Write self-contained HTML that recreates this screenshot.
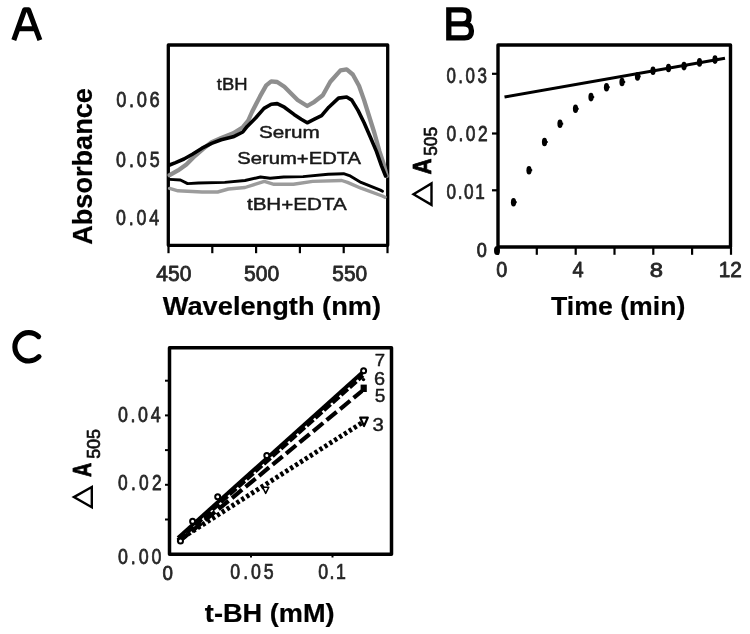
<!DOCTYPE html>
<html><head><meta charset="utf-8"><style>
html,body{margin:0;padding:0;background:#fff;}
svg{display:block;}
text{font-family:"Liberation Sans",sans-serif;font-size:100px;}
</style></head><body>
<svg width="750" height="634" viewBox="0 0 750 634">
<defs><filter id="bl" x="0" y="0" width="1" height="1"><feGaussianBlur stdDeviation="0.45"/></filter></defs>
<rect width="750" height="634" fill="#fff"/>
<g filter="url(#bl)">
<rect width="750" height="634" fill="#fff"/>
<path d="M13.8 40.2 L24.6 9.8 L28.6 9.8 L39.9 40.2 M17.85 28.8 H35.66" fill="none" stroke="#000" stroke-width="5.1" stroke-linejoin="round"/>
<path d="M448.8 23.85 H463.5 Q471.4 23.85 471.4 30.5 V31.6 Q471.4 37.9 464.5 37.9 H448.8 V9.8 H462.3 Q469 9.8 469 15.2 V17.6 Q469 23.85 462.5 23.85" fill="none" stroke="#000" stroke-width="5.3" stroke-linejoin="miter"/>
<path d="M38.6 336.6 A14 14.2 0 1 0 39 356.6" fill="none" stroke="#000" stroke-width="5.1" stroke-linecap="round"/>
<path d="M168.3 45 V245.3 H387.7 V45 Z" fill="none" stroke="#000" stroke-width="3.3" stroke-linejoin="round"/>
<line x1="168.5" y1="246" x2="168.5" y2="253.2" stroke="#000" stroke-width="2.2"/>
<line x1="212.3" y1="246" x2="212.3" y2="253.2" stroke="#000" stroke-width="2.2"/>
<line x1="256.1" y1="246" x2="256.1" y2="253.2" stroke="#000" stroke-width="2.2"/>
<line x1="299.9" y1="246" x2="299.9" y2="253.2" stroke="#000" stroke-width="2.2"/>
<line x1="343.7" y1="246" x2="343.7" y2="253.2" stroke="#000" stroke-width="2.2"/>
<line x1="387.5" y1="246" x2="387.5" y2="253.2" stroke="#000" stroke-width="2.2"/>
<polyline points="169.6,188.4 178.0,190.8 202.0,192.0 217.6,192.0 228.4,189.0 245.0,187.5 264.3,181.4 274.0,184.3 293.4,184.3 312.7,181.4 341.7,180.5 347.5,182.4 361.0,188.2 382.3,196.0 385.0,197.3" fill="none" stroke-linejoin="round" stroke-linecap="round" stroke="#9c9c9c" stroke-width="3.4"/>
<polyline points="169.6,179.4 180.4,180.0 187.6,183.6 198.4,183.0 224.8,182.4 245.0,180.5 260.5,177.0 270.1,178.2 283.7,177.0 303.0,176.6 328.2,174.3 343.6,173.7 349.4,175.6 361.0,182.4 380.4,190.1 382.5,191.2" fill="none" stroke-linejoin="round" stroke-linecap="round" stroke="#000" stroke-width="2.9"/>
<polyline points="169.6,175.2 178.0,170.4 186.4,164.4 194.8,156.0 203.2,148.8 211.6,142.2 221.2,138.0 233.2,133.2 242.8,127.2 248.0,121.0 252.0,112.0 260.0,96.4 266.2,85.4 271.2,81.4 277.2,82.0 284.4,86.8 291.6,94.0 297.6,100.0 307.2,106.0 314.4,101.8 322.8,95.2 330.3,81.7 340.5,70.4 346.7,69.4 352.8,74.5 359.0,85.8 364.1,100.1 369.2,116.5 374.4,133.0 379.5,151.4 383.6,163.7 386.7,176.0" fill="none" stroke-linejoin="round" stroke-linecap="round" stroke="#8e8e8e" stroke-width="4.3"/>
<polyline points="169.6,165.0 175.6,162.6 184.0,159.0 192.4,154.2 202.0,148.2 211.6,143.4 221.2,139.8 233.2,136.8 242.8,132.0 247.2,126.4 255.6,118.0 264.0,108.4 271.2,104.2 277.2,103.6 284.4,107.2 294.0,114.4 301.2,119.2 307.2,122.8 314.4,119.2 321.6,115.6 328.8,107.2 338.5,98.1 346.7,97.0 351.8,100.1 358.0,110.4 364.1,122.7 370.3,137.0 376.4,151.4 381.5,165.8 385.6,176.0" fill="none" stroke-linejoin="round" stroke-linecap="round" stroke="#000" stroke-width="3.6"/>
<path d="M498 45 V247 H730.5 V45 Z" fill="none" stroke="#000" stroke-width="3.4" stroke-linejoin="round"/>
<line x1="498.0" y1="248" x2="498.0" y2="254.8" stroke="#000" stroke-width="2.2"/>
<line x1="536.8" y1="248" x2="536.8" y2="254.8" stroke="#000" stroke-width="2.2"/>
<line x1="575.7" y1="248" x2="575.7" y2="254.8" stroke="#000" stroke-width="2.2"/>
<line x1="614.5" y1="248" x2="614.5" y2="254.8" stroke="#000" stroke-width="2.2"/>
<line x1="653.3" y1="248" x2="653.3" y2="254.8" stroke="#000" stroke-width="2.2"/>
<line x1="692.1" y1="248" x2="692.1" y2="254.8" stroke="#000" stroke-width="2.2"/>
<line x1="731.0" y1="248" x2="731.0" y2="254.8" stroke="#000" stroke-width="2.2"/>
<line x1="492" y1="190.3" x2="498" y2="190.3" stroke="#000" stroke-width="2.2"/>
<line x1="492" y1="133.5" x2="498" y2="133.5" stroke="#000" stroke-width="2.2"/>
<line x1="492" y1="73.8" x2="498" y2="73.8" stroke="#000" stroke-width="2.2"/>
<line x1="504.5" y1="97.1" x2="725" y2="58.3" stroke="#000" stroke-width="3"/>
<ellipse cx="513.5" cy="202.2" rx="2.6" ry="4.3" fill="#000"/>
<line x1="513.5" y1="202.2" x2="516.7" y2="202.2" stroke="#000" stroke-width="2"/>
<ellipse cx="529.0" cy="170.2" rx="2.6" ry="4.3" fill="#000"/>
<line x1="529.0" y1="170.2" x2="532.2" y2="170.2" stroke="#000" stroke-width="2"/>
<ellipse cx="544.5" cy="142.0" rx="2.6" ry="4.3" fill="#000"/>
<line x1="544.5" y1="142.0" x2="547.7" y2="142.0" stroke="#000" stroke-width="2"/>
<ellipse cx="560.0" cy="123.7" rx="2.6" ry="4.3" fill="#000"/>
<line x1="560.0" y1="123.7" x2="563.2" y2="123.7" stroke="#000" stroke-width="2"/>
<ellipse cx="575.5" cy="108.8" rx="2.6" ry="4.3" fill="#000"/>
<line x1="575.5" y1="108.8" x2="578.7" y2="108.8" stroke="#000" stroke-width="2"/>
<ellipse cx="591.0" cy="97.1" rx="2.6" ry="4.3" fill="#000"/>
<line x1="591.0" y1="97.1" x2="594.2" y2="97.1" stroke="#000" stroke-width="2"/>
<ellipse cx="606.5" cy="87.2" rx="2.6" ry="4.3" fill="#000"/>
<line x1="606.5" y1="87.2" x2="609.7" y2="87.2" stroke="#000" stroke-width="2"/>
<ellipse cx="622.0" cy="82.0" rx="2.6" ry="4.3" fill="#000"/>
<line x1="622.0" y1="82.0" x2="625.2" y2="82.0" stroke="#000" stroke-width="2"/>
<ellipse cx="637.5" cy="76.4" rx="2.6" ry="4.3" fill="#000"/>
<line x1="637.5" y1="76.4" x2="640.7" y2="76.4" stroke="#000" stroke-width="2"/>
<ellipse cx="653.0" cy="70.8" rx="2.6" ry="4.3" fill="#000"/>
<line x1="653.0" y1="70.8" x2="656.2" y2="70.8" stroke="#000" stroke-width="2"/>
<ellipse cx="668.5" cy="68.0" rx="2.6" ry="4.3" fill="#000"/>
<line x1="668.5" y1="68.0" x2="671.7" y2="68.0" stroke="#000" stroke-width="2"/>
<ellipse cx="684.0" cy="66.1" rx="2.6" ry="4.3" fill="#000"/>
<line x1="684.0" y1="66.1" x2="687.2" y2="66.1" stroke="#000" stroke-width="2"/>
<ellipse cx="699.5" cy="62.4" rx="2.6" ry="4.3" fill="#000"/>
<line x1="699.5" y1="62.4" x2="702.7" y2="62.4" stroke="#000" stroke-width="2"/>
<ellipse cx="715.0" cy="59.6" rx="2.6" ry="4.3" fill="#000"/>
<line x1="715.0" y1="59.6" x2="718.2" y2="59.6" stroke="#000" stroke-width="2"/>
<ellipse cx="497" cy="250.5" rx="3" ry="4.5" fill="#000"/>
<path d="M413.5 194.2 L431.5 183.4 L431.5 204.9 Z" fill="none" stroke="#000" stroke-width="2.4" stroke-linejoin="miter"/>
<path d="M73.9 497.1 L91.8 487.0 L91.8 507.3 Z" fill="none" stroke="#000" stroke-width="2.4" stroke-linejoin="miter"/>
<path d="M169.5 347.7 V554.2 H391.5 V347.7 Z" fill="none" stroke="#000" stroke-width="3.5" stroke-linejoin="round"/>
<line x1="165" y1="519.5" x2="170" y2="519.5" stroke="#000" stroke-width="2"/>
<line x1="165" y1="484.8" x2="170" y2="484.8" stroke="#000" stroke-width="2"/>
<line x1="165" y1="450.1" x2="170" y2="450.1" stroke="#000" stroke-width="2"/>
<line x1="165" y1="415.4" x2="170" y2="415.4" stroke="#000" stroke-width="2"/>
<line x1="165" y1="380.7" x2="170" y2="380.7" stroke="#000" stroke-width="2"/>
<line x1="251" y1="554" x2="251" y2="557.5" stroke="#000" stroke-width="2"/>
<line x1="332.5" y1="554" x2="332.5" y2="557.5" stroke="#000" stroke-width="2"/>
<line x1="178" y1="540.5" x2="364" y2="421.5" stroke="#000" stroke-width="4.8" stroke-dasharray="3.2 2.6"/>
<line x1="178" y1="542.5" x2="362" y2="391" stroke="#000" stroke-width="4.2" stroke-dasharray="13 4.5"/>
<line x1="178" y1="540.5" x2="363" y2="375.5" stroke="#000" stroke-width="4" stroke-dasharray="9 2.5"/>
<line x1="178" y1="537.8" x2="363.5" y2="371.5" stroke="#000" stroke-width="3.8"/>
<circle cx="180.5" cy="541" r="2.5" fill="#fff" stroke="#000" stroke-width="2"/>
<circle cx="192.6" cy="521.3" r="2.5" fill="#fff" stroke="#000" stroke-width="2"/>
<circle cx="217.7" cy="496.8" r="2.5" fill="#fff" stroke="#000" stroke-width="2"/>
<circle cx="266.8" cy="455.5" r="2.5" fill="#fff" stroke="#000" stroke-width="2"/>
<circle cx="363.6" cy="370.8" r="2.5" fill="#fff" stroke="#000" stroke-width="2"/>
<rect x="360.6" y="384.6" width="6.2" height="7.4" fill="#000"/>
<circle cx="363.5" cy="379.6" r="1.7" fill="#000"/>
<path d="M360.2 417.6 L367.8 417.6 L364 426 Z" fill="#fff" stroke="#000" stroke-width="2.2" stroke-linejoin="round"/>
<path d="M262.6 487.2 L268.8 487.2 L265.7 493.4 Z" fill="#fff" stroke="#000" stroke-width="1.5" stroke-linejoin="round"/>
<text transform="matrix(0.18310 0 0 0.22887 116.343 106.896)" letter-spacing="14.19" stroke="#262626" stroke-width="3.28" stroke-linejoin="round" fill="#262626">0.06</text>
<text transform="matrix(0.17859 0 0 0.22324 115.961 167.102)" letter-spacing="16.86" stroke="#262626" stroke-width="3.36" stroke-linejoin="round" fill="#262626">0.05</text>
<text transform="matrix(0.17859 0 0 0.22324 115.961 224.902)" letter-spacing="15.82" stroke="#262626" stroke-width="3.36" stroke-linejoin="round" fill="#262626">0.04</text>
<text transform="matrix(0.21056 0 0 0.22394 156.279 281.076)" stroke="#262626" stroke-width="3.57" stroke-linejoin="round" fill="#262626">450</text>
<text transform="matrix(0.21132 0 0 0.22535 243.955 281.175)" stroke="#262626" stroke-width="3.55" stroke-linejoin="round" fill="#262626">500</text>
<text transform="matrix(0.20943 0 0 0.21972 332.262 281.080)" stroke="#262626" stroke-width="3.64" stroke-linejoin="round" fill="#262626">550</text>
<text transform="matrix(0.27227 0 0 0.26702 162.800 315.093)" font-weight="bold" stroke="#000" stroke-width="0.75" stroke-linejoin="round" fill="#000">Wavelength (nm)</text>
<text transform="matrix(0 -0.27110 0.26892 0 92.231 244.813)" font-weight="bold" stroke="#000" stroke-width="0.74" stroke-linejoin="round" fill="#000">Absorbance</text>
<text transform="matrix(0.18439 0 0 0.16929 216.856 90.006)" stroke="#1a1a1a" stroke-width="2.66" stroke-linejoin="round" fill="#1a1a1a">tBH</text>
<text transform="matrix(0.20654 0 0 0.16268 258.992 138.112)" stroke="#1a1a1a" stroke-width="2.77" stroke-linejoin="round" fill="#1a1a1a">Serum</text>
<text transform="matrix(0.20222 0 0 0.15986 237.314 164.115)" stroke="#1a1a1a" stroke-width="2.81" stroke-linejoin="round" fill="#1a1a1a">Serum+EDTA</text>
<text transform="matrix(0.20612 0 0 0.16500 246.913 209.710)" stroke="#1a1a1a" stroke-width="2.73" stroke-linejoin="round" fill="#1a1a1a">tBH+EDTA</text>
<text transform="matrix(0.16958 0 0 0.21197 446.397 82.713)" letter-spacing="14.76" stroke="#262626" stroke-width="3.54" stroke-linejoin="round" fill="#262626">0.03</text>
<text transform="matrix(0.17408 0 0 0.21761 446.379 140.707)" letter-spacing="14.30" stroke="#262626" stroke-width="3.45" stroke-linejoin="round" fill="#262626">0.02</text>
<text transform="matrix(0.17183 0 0 0.21479 446.388 198.910)" letter-spacing="9.87" stroke="#262626" stroke-width="3.49" stroke-linejoin="round" fill="#262626">0.01</text>
<text transform="matrix(0.18125 0 0 0.20000 476.675 256.700)" stroke="#262626" stroke-width="4.00" stroke-linejoin="round" fill="#262626">0</text>
<text transform="matrix(0.19792 0 0 0.21408 496.308 277.086)" stroke="#262626" stroke-width="3.74" stroke-linejoin="round" fill="#262626">0</text>
<text transform="matrix(0.20000 0 0 0.21471 572.500 277.215)" stroke="#262626" stroke-width="3.73" stroke-linejoin="round" fill="#262626">4</text>
<text transform="matrix(0.23830 0 0 0.20986 649.747 276.790)" stroke="#262626" stroke-width="3.81" stroke-linejoin="round" fill="#262626">8</text>
<text transform="matrix(0.20816 0 0 0.21286 718.735 277.000)" stroke="#262626" stroke-width="3.76" stroke-linejoin="round" fill="#262626">12</text>
<text transform="matrix(0.26667 0 0 0.26596 551.033 315.115)" font-weight="bold" stroke="#000" stroke-width="0.75" stroke-linejoin="round" fill="#000">Time (min)</text>
<text transform="matrix(0 -0.22273 0.26471 0 431.365 174.468)" font-weight="bold" stroke="#000" stroke-width="3.02" stroke-linejoin="round" fill="#000">A</text>
<text transform="matrix(0 -0.17358 0.17746 0 436.973 155.844)" stroke="#111" stroke-width="3.94" stroke-linejoin="round" fill="#111">505</text>
<text transform="matrix(0.17859 0 0 0.22324 117.961 421.502)" letter-spacing="14.70" stroke="#262626" stroke-width="3.36" stroke-linejoin="round" fill="#262626">0.04</text>
<text transform="matrix(0.17408 0 0 0.21761 117.979 489.507)" letter-spacing="18.90" stroke="#262626" stroke-width="3.45" stroke-linejoin="round" fill="#262626">0.02</text>
<text transform="matrix(0.17859 0 0 0.22324 118.061 564.002)" letter-spacing="15.96" stroke="#262626" stroke-width="3.36" stroke-linejoin="round" fill="#262626">0.00</text>
<text transform="matrix(0.18750 0 0 0.21127 162.550 579.689)" stroke="#262626" stroke-width="3.79" stroke-linejoin="round" fill="#262626">0</text>
<text transform="matrix(0.17746 0 0 0.22183 230.365 579.403)" letter-spacing="16.61" stroke="#262626" stroke-width="3.38" stroke-linejoin="round" fill="#262626">0.05</text>
<text transform="matrix(0.17746 0 0 0.22183 318.365 579.403)" letter-spacing="7.83" stroke="#262626" stroke-width="3.38" stroke-linejoin="round" fill="#262626">0.1</text>
<text transform="matrix(0.27182 0 0 0.25851 204.828 621.971)" font-weight="bold" stroke="#000" stroke-width="0.77" stroke-linejoin="round" fill="#000">t-BH (mM)</text>
<text transform="matrix(0 -0.19545 0.26029 0 91.360 476.886)" font-weight="bold" stroke="#000" stroke-width="3.07" stroke-linejoin="round" fill="#000">A</text>
<text transform="matrix(0 -0.17987 0.18310 0 99.667 458.869)" stroke="#111" stroke-width="3.82" stroke-linejoin="round" fill="#111">505</text>
<text transform="matrix(0.18587 0 0 0.16544 374.696 365.840)" stroke="#1a1a1a" stroke-width="2.72" stroke-linejoin="round" fill="#1a1a1a">7</text>
<text transform="matrix(0.19891 0 0 0.18521 374.030 384.890)" stroke="#1a1a1a" stroke-width="2.43" stroke-linejoin="round" fill="#1a1a1a">6</text>
<text transform="matrix(0.19043 0 0 0.18786 374.863 402.387)" stroke="#1a1a1a" stroke-width="2.40" stroke-linejoin="round" fill="#1a1a1a">5</text>
<text transform="matrix(0.20319 0 0 0.18521 372.612 431.090)" stroke="#1a1a1a" stroke-width="2.43" stroke-linejoin="round" fill="#1a1a1a">3</text>
</g>
</svg>
</body></html>
